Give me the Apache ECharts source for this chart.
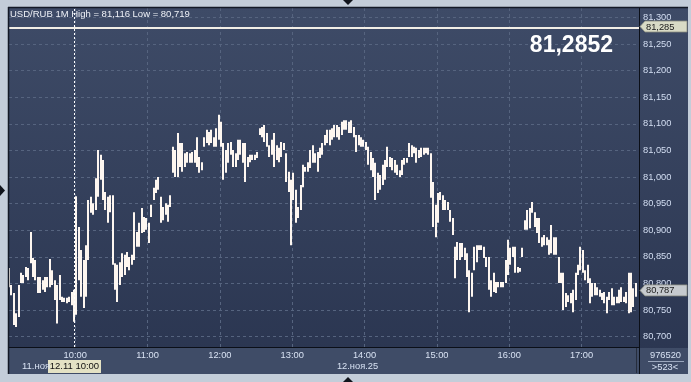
<!DOCTYPE html>
<html><head><meta charset="utf-8">
<script src="https://cdn.jsdelivr.net/npm/echarts@6/dist/echarts.min.js"></script>
<style>html,body{margin:0;padding:0;background:#c3cdd9;overflow:hidden}#c{width:691px;height:382px}</style>
</head><body><div id="c"></div>
<script>
// ---- data ----
const titleText = 'USD/RUB 1M High = 81,116 Low = 80,719';
const bigQuote = '81,2852';
const startMinute = 545;      // 09:05, first 2-minute bar
const stepMinutes = 2;
const highs = [
80.829,80.797,80.782,80.744,80.797,80.820,80.816,80.831,80.829,80.897,
80.848,80.844,80.812,80.812,80.806,80.812,80.812,80.846,80.825,80.806,
80.797,80.816,80.775,80.773,80.773,80.775,80.784,80.788,80.964,80.906,
80.863,80.844,80.872,80.957,80.963,80.951,80.998,81.051,81.042,81.032,
80.972,80.963,80.966,80.966,80.838,80.835,80.840,80.857,80.854,80.859,
80.850,80.854,80.934,80.897,80.914,80.942,80.925,80.923,80.914,80.948,
80.980,80.995,81.000,80.963,80.944,80.951,80.948,80.966,81.057,81.051,
81.083,81.064,81.064,81.045,81.047,81.045,81.047,81.051,81.075,81.038,
81.028,81.075,81.089,81.085,81.089,81.075,81.092,81.117,81.104,81.064,
81.051,81.064,81.066,81.051,81.045,81.070,81.070,81.064,81.064,81.038,
81.042,81.042,81.042,81.047,81.092,81.094,81.098,81.083,81.060,81.070,
81.083,81.060,81.055,81.066,81.064,81.045,81.010,80.995,81.008,80.976,
80.944,80.985,81.023,81.019,81.028,81.051,81.060,81.045,81.047,81.055,
81.064,81.079,81.089,81.089,81.092,81.098,81.098,81.094,81.104,81.107,
81.107,81.104,81.107,81.094,81.079,81.079,81.075,81.070,81.066,81.057,
81.047,81.036,81.027,81.008,81.004,81.023,81.032,81.057,81.038,81.036,
81.032,81.023,81.013,81.032,81.036,81.036,81.064,81.060,81.057,81.055,
81.051,81.055,81.055,81.055,81.055,81.045,80.991,80.948,80.970,80.972,
80.966,80.957,80.953,80.938,80.923,80.869,80.878,80.876,80.876,80.867,
80.857,80.825,80.820,80.869,80.872,80.872,80.872,80.869,80.850,80.850,
80.806,80.820,80.803,80.803,80.803,80.803,80.844,80.882,80.867,80.869,
80.869,80.831,80.829,80.867,80.919,80.938,80.942,80.953,80.934,80.923,
80.923,80.887,80.891,80.887,80.882,80.910,80.887,80.887,80.850,80.820,
80.820,80.782,80.778,80.782,80.788,80.820,80.835,80.869,80.863,80.825,
80.835,80.810,80.801,80.801,80.793,80.788,80.782,80.784,80.775,80.784,
80.791,80.775,80.775,80.788,80.793,80.775,80.784,80.820,80.820,80.791,
80.801
];
const lows = [
80.793,80.778,80.722,80.718,80.737,80.801,80.801,80.812,80.806,80.838,
80.812,80.806,80.782,80.782,80.788,80.784,80.793,80.793,80.797,80.769,
80.725,80.769,80.765,80.765,80.763,80.765,80.759,80.728,80.741,80.806,
80.775,80.754,80.775,80.844,80.933,80.929,80.938,80.963,80.995,80.957,
80.938,80.914,80.934,80.835,80.788,80.765,80.797,80.812,80.816,80.831,
80.825,80.835,80.844,80.869,80.869,80.895,80.897,80.901,80.876,80.925,
80.957,80.970,80.976,80.914,80.919,80.929,80.916,80.944,81.008,81.000,
81.000,81.019,81.010,81.019,81.027,81.027,81.027,81.027,81.019,81.008,
81.013,81.057,81.064,81.060,81.064,81.057,81.057,81.070,81.057,80.995,
81.008,81.027,81.042,81.019,81.019,81.032,81.042,81.027,80.991,81.019,
81.028,81.032,81.032,81.036,81.079,81.075,81.066,81.057,81.038,81.042,
81.019,81.032,81.028,81.038,81.051,80.991,80.972,80.872,80.957,80.914,
80.923,80.938,80.981,81.010,81.010,81.017,81.027,81.027,81.010,81.036,
81.042,81.060,81.064,81.060,81.070,81.075,81.075,81.070,81.079,81.089,
81.089,81.083,81.083,81.075,81.047,81.060,81.057,81.057,81.051,81.023,
81.013,81.000,80.957,80.970,80.976,80.985,80.995,81.019,81.019,81.013,
81.008,81.004,81.000,81.004,81.023,81.027,81.038,81.038,81.045,81.027,
81.036,81.038,81.042,81.045,81.042,80.961,80.906,80.887,80.914,80.957,
80.938,80.938,80.938,80.916,80.891,80.810,80.844,80.844,80.850,80.844,
80.812,80.746,80.775,80.825,80.840,80.863,80.863,80.848,80.831,80.788,
80.775,80.784,80.782,80.793,80.793,80.793,80.801,80.816,80.835,80.850,
80.820,80.820,80.822,80.850,80.901,80.901,80.904,80.933,80.906,80.895,
80.876,80.869,80.872,80.872,80.854,80.857,80.854,80.854,80.801,80.801,
80.750,80.756,80.765,80.763,80.746,80.769,80.816,80.825,80.820,80.806,
80.801,80.763,80.775,80.778,80.778,80.775,80.769,80.763,80.744,80.769,
80.759,80.759,80.763,80.763,80.765,80.765,80.763,80.744,80.746,80.756,
80.775
];
const hourTicks = [600,660,720,780,840,900,960,1020];
const hourLabels = ['10:00','11:00','12:00','13:00','14:00','15:00','16:00','17:00'];
const priceTicks = [80.70,80.75,80.80,80.85,80.90,80.95,81.00,81.05,81.10,81.15,81.20,81.25,81.30];
const alertPrice = 81.285;
const lastPrice = 80.787;
const crosshairMinute = 599.1;
const crosshairLabel = '12.11 10:00';
const dayLabelLeft = '11.ноя';
const dayLabelCenter = '12.ноя.25';
const barsTotal = '976520';
const barsVisible = '>523<';

// ---- chart ----
const FONT = '"Liberation Sans", Arial, sans-serif';
const fmtPrice = v => v.toFixed(3).replace('.', ',');
const barData = highs.map((h, i) => [startMinute + i * stepMinutes, lows[i], h]);
const chart = echarts.init(document.getElementById('c'));

const grid = {left: 9, right: 52, top: 8, bottom: 35};
const X_MIN = 545.09, X_MAX = 1067.65, Y_MIN = 80.6806, Y_MAX = 81.3179;
const gridLine = {show: true, lineStyle: {color: '#56647f', width: 1, type: [3, 3]}};

chart.setOption({
  animation: false,
  backgroundColor: '#c3cdd9',
  grid: grid,
  xAxis: {
    type: 'value', min: X_MIN, max: X_MAX,
    axisLine: {show: true, onZero: false, lineStyle: {color: '#0b0f18', width: 1}},
    axisTick: {show: false, customValues: hourTicks},
    axisLabel: {customValues: hourTicks, margin: 4, color: '#d8e2f3', fontSize: 9.3, fontFamily: FONT,
      formatter: v => hourLabels[hourTicks.indexOf(v)] || ''},
    splitLine: gridLine
  },
  yAxis: {
    type: 'value', position: 'right', min: Y_MIN, max: Y_MAX, scale: true,
    axisLine: {show: true, onZero: false, lineStyle: {color: '#0b0f18', width: 1}},
    axisTick: {show: false, customValues: priceTicks},
    axisLabel: {customValues: priceTicks, margin: 4, color: '#d3def2', fontSize: 9.3, fontFamily: FONT,
      formatter: v => fmtPrice(v)},
    splitLine: gridLine
  },
  series: [{
    type: 'custom',
    z: 3,
    clip: true,
    data: barData,
    encode: {x: 0, y: [1, 2]},
    renderItem: function (params, api) {
      const x = api.value(0), lo = api.value(1), hi = api.value(2);
      const pHi = api.coord([x, hi]);
      const pLo = api.coord([x, lo]);
      let h = pLo[1] - pHi[1];
      if (h < 1.5) h = 1.5;
      return {type: 'rect', shape: {x: Math.round(pHi[0]) - 1, y: pHi[1], width: 2, height: h},
        style: {fill: '#fdf6f0'}};
    },
    markLine: {
      silent: true, symbol: 'none', animation: false,
      label: {show: false},
      data: [
        {yAxis: alertPrice, lineStyle: {color: '#f2eee6', width: 2, type: 'solid'}},
        {xAxis: crosshairMinute, lineStyle: {color: '#ffffff', width: 1, type: [2, 2]}}
      ]
    }
  }]
});

const yAlert = chart.convertToPixel({gridIndex: 0}, [X_MIN, alertPrice])[1];
const yLast = chart.convertToPixel({gridIndex: 0}, [X_MIN, lastPrice])[1];
const xCross = chart.convertToPixel({gridIndex: 0}, [crosshairMinute, Y_MIN])[0];

function txt(text, x, y, opts) {
  return Object.assign({type: 'text', z: 100, style: Object.assign({
    text: text, x: x, y: y, fill: '#d8e2f3', font: '9.3px ' + FONT,
    align: 'left', verticalAlign: 'middle', textAlign: 'left', textVerticalAlign: 'middle'
  }, opts || {})});
}
function tag(y, label, fill) {
  return [
    {type: 'polygon', z: 99, shape: {points: [[640, y], [645, y - 5.5], [687, y - 5.5], [687, y + 5.5], [645, y + 5.5]]},
      style: {fill: fill, stroke: '#8a8e80', lineWidth: 0.8}},
    txt(label, 646, y + 0.5, {fill: '#1a1a1a'})
  ];
}

const bgGrad = {type: 'linear', x: 0, y: 0, x2: 0, y2: 1,
  colorStops: [{offset: 0, color: '#3e4b67'}, {offset: 1, color: '#2a3550'}]};

chart.setOption({
  graphic: [
    {type: 'rect', z: -10, shape: {x: 8, y: 7, width: 680, height: 367}, style: {fill: bgGrad}},
    {type: 'rect', z: -9, shape: {x: 9, y: 348, width: 679, height: 26}, style: {fill: '#3f4c67'}},
    {type: 'line', z: 50, shape: {x1: 8, y1: 7.5, x2: 688, y2: 7.5}, style: {stroke: '#131926', lineWidth: 1.5}},
    {type: 'line', z: 50, shape: {x1: 8.5, y1: 7, x2: 8.5, y2: 374}, style: {stroke: '#131926', lineWidth: 1.5}},
    {type: 'line', z: 50, shape: {x1: 636.5, y1: 348, x2: 636.5, y2: 373}, style: {stroke: '#262d3d', lineWidth: 1}},
    {type: 'line', z: 50, shape: {x1: 639.5, y1: 347, x2: 639.5, y2: 374}, style: {stroke: '#0b0f18', lineWidth: 1}},
    {type: 'line', z: 50, shape: {x1: 648, y1: 361.5, x2: 684, y2: 361.5}, style: {stroke: '#9aa6bc', lineWidth: 1}},
    {type: 'polygon', z: 50, shape: {points: [[343, 0], [353, 0], [348, 5]]}, style: {fill: '#10141c'}},
    {type: 'polygon', z: 50, shape: {points: [[343, 382], [353, 382], [348, 377]]}, style: {fill: '#10141c'}},
    {type: 'polygon', z: 50, shape: {points: [[0, 185], [0, 196], [5, 190.5]]}, style: {fill: '#10141c'}},
    txt(titleText, 10, 14, {fill: '#eef1f7', font: '9.5px ' + FONT}),
    txt(bigQuote, 613, 45.5, {fill: '#ffffff', font: 'bold 23px ' + FONT, align: 'right', textAlign: 'right'}),
    txt(dayLabelLeft, 22, 366.5, {font: '9.5px ' + FONT}),
    {type: 'rect', z: 99, shape: {x: 48, y: 360, width: 53, height: 13}, style: {fill: '#e4e2c4'}},
    txt(crosshairLabel, xCross + 0.3, 366.5, {fill: '#111111', font: '9.5px ' + FONT, align: 'center', textAlign: 'center'}),
    txt(dayLabelCenter, 357.5, 366.5, {align: 'center', textAlign: 'center'}),
    txt(barsTotal, 665.5, 355, {align: 'center', textAlign: 'center'}),
    txt(barsVisible, 665, 367, {align: 'center', textAlign: 'center'}),
    ...tag(yAlert + 1, fmtPrice(alertPrice), '#d9dbc6'),
    ...tag(yLast, fmtPrice(lastPrice), '#c6cace')
  ]
});
</script>
</body></html>
